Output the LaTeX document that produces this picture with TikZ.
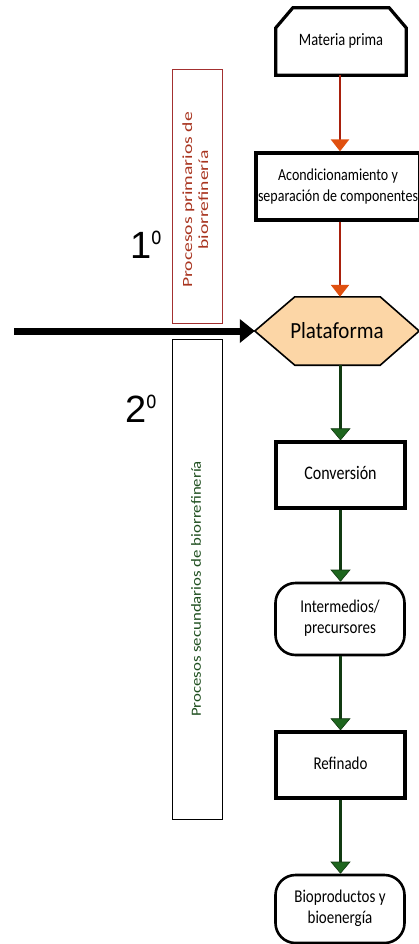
\documentclass[tikz,border=0pt]{standalone}
\usepackage{fontspec}
\usepackage{graphicx}
\setmainfont{Carlito}
\newfontfamily\ordfont{Liberation Sans}
\usetikzlibrary{arrows.meta,calc}

\definecolor{redline}{HTML}{A8200C}
\definecolor{redhead}{HTML}{E0500F}
\definecolor{greenline}{HTML}{113A11}
\definecolor{greenhead}{HTML}{1E661E}
\definecolor{boxred}{HTML}{A33030}
\definecolor{textred}{HTML}{A8341F}
\definecolor{textgreen}{HTML}{1F4F1F}
\definecolor{platfill}{HTML}{FCD6A6}

% digit followed by a raised ordinal "o"
\newcommand{\ordinal}[1]{#1\raisebox{14pt}{\scalebox{0.72}[1]{\fontsize{25}{25}\selectfont o}}}
% box labels are set a little taller than wide
\newcommand{\tall}[1]{\scalebox{1}[1.2]{\begin{tabular}{@{}c@{}}#1\end{tabular}}}

\tikzset{
  flowbox/.style={draw=black, line width=3.2pt, fill=white, minimum width=129pt,
    minimum height=66pt, inner sep=2pt, align=center, font=\fontsize{15}{17}\selectfont},
  roundbox/.style={flowbox, line width=2.6pt, rounded corners=20pt},
  redarrow/.style={draw=redline, line width=2.4pt,
    -{Triangle[width=18pt,length=12pt,fill=redhead,color=redhead]}},
  greenarrow/.style={draw=greenline, line width=2.4pt,
    -{Triangle[width=20pt,length=12pt,fill=greenhead,color=greenline,line width=0.6pt]}},
  sidebox/.style={draw, line width=0.9pt, minimum width=50pt},
  ordlabel/.style={font=\ordfont\fontsize{38}{38}\selectfont, inner sep=0pt, anchor=base west}
}

\begin{document}
\begin{tikzpicture}[x=1pt,y=-1pt]
\useasboundingbox (0,0) rectangle (419,944);

% raw material: box with cut upper corners
\node[minimum width=130pt, minimum height=67pt, inner sep=0pt] (mp) at (341,41.5) {};
\draw[line width=3.2pt, line join=miter]
  (mp.south west) -- ($(mp.north west)+(0,20)$) -- ($(mp.north west)+(17,0)$)
  -- ($(mp.north east)+(-17,0)$) -- ($(mp.north east)+(0,20)$) -- (mp.south east) -- cycle;
\node[font=\fontsize{14.5}{17}\selectfont] (mptxt) at (mp.center) {\tall{Materia prima}};

% primary processes
\node[flowbox, minimum width=158pt, minimum height=67pt, font=\fontsize{14}{17.5}\selectfont]
  (acon) at (338,186.5) {\tall{Acondicionamiento y\\separación de componentes}};

% platform hexagon
\node[minimum width=164pt, minimum height=68pt, inner sep=0pt] (plat) at (337,331) {};
\draw[line width=1.6pt, fill=platfill]
  (plat.west) -- ($(plat.north west)+(40,0)$) -- ($(plat.north east)+(-39,0)$)
  -- (plat.east) -- ($(plat.south east)+(-39,0)$) -- ($(plat.south west)+(40,0)$) -- cycle;
\node[font=\fontsize{21}{24}\selectfont] (plattxt) at (plat.center)
  {\scalebox{1}[1.1]{Plataforma}};

% secondary processes
\node[flowbox, font=\fontsize{16}{19}\selectfont] (conv) at (340.5,475) {\tall{Conversión}};
\node[roundbox, minimum height=72pt] (inter) at (340,619) {\tall{Intermedios/\\precursores}};
\node[flowbox, font=\fontsize{15}{18}\selectfont] (ref) at (340.5,765) {\tall{Refinado}};
\node[roundbox, minimum height=68pt] (bio) at (340,909) {\tall{Bioproductos y\\bioenergía}};

% side brackets
\node[sidebox, draw=boxred, minimum height=254pt] (prim) at (197,196) {};
\node[rotate=90, text=textred, font=\fontsize{14}{16}\selectfont, inner sep=0pt]
  (primtxt) at (197,200)
  {\scalebox{1.4}[1]{\begin{tabular}{@{}c@{}}Procesos primarios de\\biorrefinería\end{tabular}}};
\node[sidebox, draw=black, minimum height=480pt] (sec) at (197,579) {};
\node[rotate=90, text=textgreen, font=\fontsize{14}{17}\selectfont, inner sep=0pt]
  (sectxt) at (196,589) {\scalebox{1.2}[1]{Procesos secundarios de biorrefinería}};

\node[ordlabel] (one) at (130,258) {\ordinal{1}};
\node[ordlabel] (two) at (125,422) {\ordinal{2}};

% feed arrow into the platform
\coordinate (feed) at (14,331);
\draw[line width=7pt, -{Triangle[width=23pt,length=15pt]}] (feed) -- (plat.west);

% flow connectors
\draw[redarrow] (mp.south -| 340,0) -- (acon.north -| 340,0);
\draw[redarrow] (acon.south -| 340,0) -- (plat.north -| 340,0);
\draw[greenarrow] (plat.south -| conv.north) -- (conv.north);
\draw[greenarrow] (conv.south) -- (conv.south |- inter.north);
\draw[greenarrow] (inter.south -| ref.north) -- (ref.north);
\draw[greenarrow] (ref.south) -- (ref.south |- bio.north);
\end{tikzpicture}
\end{document}
